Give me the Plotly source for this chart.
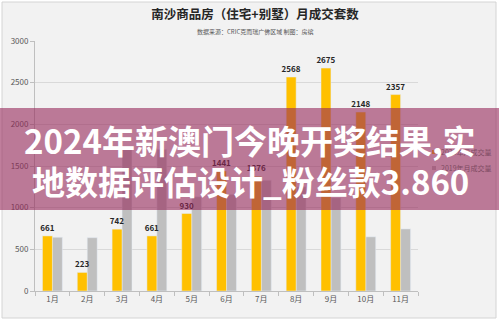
import plotly.graph_objects as go

months = ["1月", "2月", "3月", "4月", "5月", "6月", "7月", "8月", "9月", "10月", "11月"]
sales_2020 = [661, 223, 742, 661, 930, 1441, 1376, 2568, 2675, 2148, 2357]
sales_2019 = [645, 640, 1700, 1700, 1130, 1160, 1330, 1250, 1120, 650, 745]
y_ticks = [0, 500, 1000, 1500, 2000, 2500, 3000]
series_names = ["2020年月成交量", "2019年月成交量"]
title_text = "南沙商品房（住宅+别墅）月成交套数"
subtitle_text = "数据来源：CRIC克而瑞广佛区域 制图：房缤"
banner_lines = ["2024年新澳门今晚开奖结果,实", "地数据评估设计_粉丝款3.860"]

W, H = 499, 321
L, R, T, B = 35, 81, 41, 30
PW, PH = W - L - R, H - T - B
FONT = "Noto Sans CJK SC"

def px(x):
    return (x - L) / PW

def py(y):
    return (H - B - y) / PH

ORANGE = "#FFC000"
GRAY = "#BFBFBF"
BW = 0.286

fig = go.Figure()
fig.add_trace(go.Bar(
    x=months, y=sales_2019, name=series_names[1], marker_color=GRAY,
    offset=0, width=BW, showlegend=False,
))
fig.add_trace(go.Bar(
    x=months, y=sales_2020, name=series_names[0], marker_color=ORANGE,
    offset=-BW, width=BW,
    text=[str(v) for v in sales_2020], textposition="outside", constraintext="none",
    textfont=dict(size=8, color="#262626", family=FONT, weight="bold"),
    cliponaxis=False, showlegend=False,
))

shapes = []
# outer frame
shapes.append(dict(type="rect", xref="paper", yref="paper", layer="below",
                   x0=px(2), x1=px(W - 3), y0=py(H - 3), y1=py(2),
                   fillcolor="#f2f2f2", line=dict(color="#d4d4d4", width=1)))
# legend swatches
for i, c in enumerate([ORANGE, GRAY]):
    yc = 152 + 16 * i
    shapes.append(dict(type="rect", xref="paper", yref="paper", layer="above",
                       x0=px(432), x1=px(436), y0=py(yc + 2), y1=py(yc - 2),
                       fillcolor=c, line=dict(width=0)))
# banner
shapes.append(dict(type="rect", xref="paper", yref="paper", layer="above",
                   x0=px(0), x1=px(W), y0=py(210), y1=py(108),
                   fillcolor="rgba(150,40,90,0.6)", line=dict(width=0)))

annotations = [
    dict(text=subtitle_text, xref="paper", yref="paper", x=px(255), y=py(32),
         showarrow=False, font=dict(size=6, color="#595959", family=FONT),
         xanchor="center", yanchor="middle"),
]
for i, name in enumerate(series_names):
    annotations.append(dict(text=name, xref="paper", yref="paper", x=px(439), y=py(152 + 16 * i),
                            showarrow=False, xanchor="left", yanchor="middle",
                            font=dict(size=7, color="#7e4a62", family=FONT)))
for i, line in enumerate(banner_lines):
    annotations.append(dict(text="<b>" + line + "</b>", xref="paper", yref="paper",
                            x=px(250), y=py(140 + 41 * i), showarrow=False,
                            xanchor="center", yanchor="middle",
                            font=dict(size=33, color="white", family=FONT)))

fig.update_layout(
    width=W, height=H,
    margin=dict(l=L, r=R, t=T, b=B, pad=0),
    paper_bgcolor="white", plot_bgcolor="rgba(0,0,0,0)",
    barmode="overlay",
    font=dict(family=FONT, color="#595959"),
    title=dict(text="<b>" + title_text + "</b>", x=255 / W, y=1 - 15 / H,
               xanchor="center", yanchor="middle", xref="container", yref="container",
               font=dict(size=12.5, color="#262626", family=FONT)),
    shapes=shapes, annotations=annotations, showlegend=False,
)
fig.update_xaxes(showline=True, linecolor="#bfbfbf", linewidth=1,
                 ticks="outside", tickson="boundaries", ticklen=4, tickcolor="#bfbfbf",
                 tickfont=dict(size=8, color="#595959"), showgrid=False)
fig.update_yaxes(range=[0, 3000], tickvals=y_ticks, showline=True, linecolor="#bfbfbf",
                 linewidth=1, gridcolor="#d9d9d9", gridwidth=1,
                 ticks="outside", ticklen=4, tickcolor="#bfbfbf",
                 tickfont=dict(size=8, color="#595959"), zeroline=False)

fig.write_html("out.html")
